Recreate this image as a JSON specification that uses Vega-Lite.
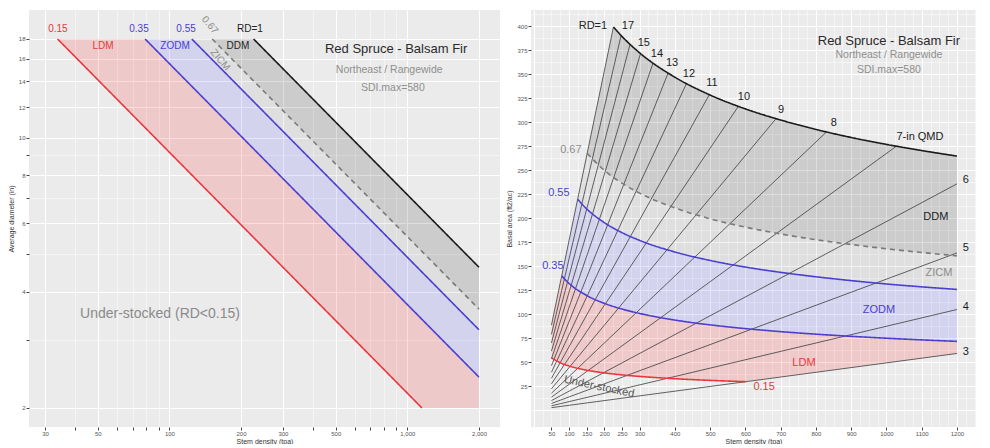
{
"$schema": "https://vega.github.io/schema/vega-lite/v6.json",
"background": "white",
"padding": {"left": 7, "top": 10, "right": 0, "bottom": 0},
"spacing": 5,
"config": {
  "view": {"stroke": null, "fill": "#ebebeb"},
  "font": "Liberation Sans",
  "axis": {"domain": false, "tickColor": "#444", "tickSize": 3, "labelFontSize": 6, "labelColor": "#555", "labelPadding": 1, "titleFontSize": 7, "titleFontWeight": "normal", "titleColor": "#333", "titlePadding": 4, "gridColor": "#ffffff", "labelFont": "Liberation Sans", "titleFont": "Liberation Sans", "labelOverlap": false},
  "axisX": {"titlePadding": 1, "labelPadding": 0}
},
"datasets": {
  "L_area": [
    {"zone":"LDM","N":33.87,"D":18,"D2":18},
    {"zone":"LDM","N":79.03,"D":18,"D2":10.617},
    {"zone":"LDM","N":1151.6,"D":3.391,"D2":2},
    {"zone":"LDM","N":2000,"D":2.404,"D2":2},
    {"zone":"ZODM","N":79.03,"D":18,"D2":18},
    {"zone":"ZODM","N":124.19,"D":18,"D2":13.583},
    {"zone":"ZODM","N":2000,"D":3.186,"D2":2.404},
    {"zone":"ZICM","N":124.19,"D":18,"D2":18},
    {"zone":"ZICM","N":151.29,"D":18,"D2":15.917},
    {"zone":"ZICM","N":2000,"D":3.603,"D2":3.186},
    {"zone":"DDM","N":151.29,"D":18,"D2":18},
    {"zone":"DDM","N":225.8,"D":18,"D2":14.025},
    {"zone":"DDM","N":2000,"D":4.624,"D2":3.603}
  ],
  "L_line": [
    {"rd":"0.15","N":33.87,"D":18},{"rd":"0.15","N":1151.6,"D":2},
    {"rd":"0.35","N":79.03,"D":18},{"rd":"0.35","N":2000,"D":2.404},
    {"rd":"0.55","N":124.19,"D":18},{"rd":"0.55","N":2000,"D":3.186},
    {"rd":"0.67","N":151.29,"D":18},{"rd":"0.67","N":2000,"D":3.603},
    {"rd":"1","N":225.8,"D":18},{"rd":"1","N":2000,"D":4.624}
  ],
  "L_text": [
    {"label":"0.15","N":34,"D":19.1,"zone":"LDM","kind":"zone"},
    {"label":"0.35","N":74.5,"D":19.1,"zone":"ZODM","kind":"zone"},
    {"label":"0.55","N":117.5,"D":19.1,"zone":"ZODM","kind":"zone"},
    {"label":"RD=1","N":218,"D":19.1,"zone":"DDM","kind":"zone"},
    {"label":"LDM","N":52.6,"D":17.26,"zone":"LDM","kind":"zone"},
    {"label":"ZODM","N":105.6,"D":17.26,"zone":"ZODM","kind":"zone"},
    {"label":"DDM","N":194,"D":17.26,"zone":"DDM","kind":"zone"},
    {"label":"0.67","N":148,"D":19.56,"zone":"ZICM","kind":"rot"},
    {"label":"ZICM","N":163.6,"D":15.89,"zone":"ZICM","kind":"rot"},
    {"label":"Red Spruce - Balsam Fir","N":897,"D":16.96,"zone":"DDM","kind":"title"},
    {"label":"Northeast / Rangewide","N":839,"D":14.97,"zone":"ZICM","kind":"sub"},
    {"label":"SDI.max=580","N":869,"D":13.44,"zone":"ZICM","kind":"sub"},
    {"label":"Under-stocked (RD<0.15)","N":91.3,"D":3.5,"zone":"ZICM","kind":"under"}
  ],
  "R_area": [
    {"zone":"LDM","N":50,"BA":88.36,"BA2":54.39},
    {"zone":"LDM","N":79.03,"BA":139.65,"BA2":48.59},
    {"zone":"LDM","N":100,"BA":131.8,"BA2":45.86},
    {"zone":"LDM","N":150,"BA":119.3,"BA2":41.5},
    {"zone":"LDM","N":200,"BA":111.1,"BA2":38.66},
    {"zone":"LDM","N":250,"BA":105.2,"BA2":36.6},
    {"zone":"LDM","N":300,"BA":100.6,"BA2":34.99},
    {"zone":"LDM","N":400,"BA":93.7,"BA2":32.6},
    {"zone":"LDM","N":500,"BA":88.7,"BA2":30.86},
    {"zone":"LDM","N":600.8,"BA":84.77,"BA2":29.5},
    {"zone":"LDM","N":700,"BA":81.65,"BA2":34.36},
    {"zone":"LDM","N":800,"BA":79.01,"BA2":39.27},
    {"zone":"LDM","N":900,"BA":76.75,"BA2":44.18},
    {"zone":"LDM","N":1000,"BA":74.79,"BA2":49.09},
    {"zone":"LDM","N":1100,"BA":73.05,"BA2":54.0},
    {"zone":"LDM","N":1200,"BA":71.5,"BA2":58.9},
    {"zone":"ZODM","N":79.03,"BA":139.65,"BA2":139.65},
    {"zone":"ZODM","N":100,"BA":176.71,"BA2":131.8},
    {"zone":"ZODM","N":124.19,"BA":219.5,"BA2":124.96},
    {"zone":"ZODM","N":150,"BA":209.5,"BA2":119.3},
    {"zone":"ZODM","N":200,"BA":195.2,"BA2":111.1},
    {"zone":"ZODM","N":250,"BA":184.8,"BA2":105.2},
    {"zone":"ZODM","N":300,"BA":176.7,"BA2":100.6},
    {"zone":"ZODM","N":400,"BA":164.6,"BA2":93.7},
    {"zone":"ZODM","N":500,"BA":155.8,"BA2":88.7},
    {"zone":"ZODM","N":600,"BA":148.9,"BA2":84.8},
    {"zone":"ZODM","N":700,"BA":143.4,"BA2":81.65},
    {"zone":"ZODM","N":800,"BA":138.8,"BA2":79.01},
    {"zone":"ZODM","N":900,"BA":134.8,"BA2":76.75},
    {"zone":"ZODM","N":1000,"BA":131.3,"BA2":74.79},
    {"zone":"ZODM","N":1100,"BA":128.3,"BA2":73.05},
    {"zone":"ZODM","N":1200,"BA":125.6,"BA2":71.5},
    {"zone":"ZICM","N":124.19,"BA":219.5,"BA2":219.5},
    {"zone":"ZICM","N":150,"BA":265.07,"BA2":209.5},
    {"zone":"ZICM","N":151.29,"BA":267.4,"BA2":209.06},
    {"zone":"ZICM","N":200,"BA":249.6,"BA2":195.2},
    {"zone":"ZICM","N":250,"BA":236.3,"BA2":184.8},
    {"zone":"ZICM","N":300,"BA":225.9,"BA2":176.7},
    {"zone":"ZICM","N":400,"BA":210.5,"BA2":164.6},
    {"zone":"ZICM","N":500,"BA":199.2,"BA2":155.8},
    {"zone":"ZICM","N":600,"BA":190.5,"BA2":148.9},
    {"zone":"ZICM","N":700,"BA":183.4,"BA2":143.4},
    {"zone":"ZICM","N":800,"BA":177.4,"BA2":138.8},
    {"zone":"ZICM","N":900,"BA":172.4,"BA2":134.8},
    {"zone":"ZICM","N":1000,"BA":168.0,"BA2":131.3},
    {"zone":"ZICM","N":1100,"BA":164.1,"BA2":128.3},
    {"zone":"ZICM","N":1200,"BA":160.6,"BA2":125.6},
    {"zone":"DDM","N":151.29,"BA":267.4,"BA2":267.4},
    {"zone":"DDM","N":200,"BA":353.42,"BA2":249.6},
    {"zone":"DDM","N":225.8,"BA":399.0,"BA2":242.26},
    {"zone":"DDM","N":250,"BA":389.2,"BA2":236.3},
    {"zone":"DDM","N":300,"BA":372.1,"BA2":225.9},
    {"zone":"DDM","N":400,"BA":346.7,"BA2":210.5},
    {"zone":"DDM","N":500,"BA":328.1,"BA2":199.2},
    {"zone":"DDM","N":600,"BA":313.7,"BA2":190.5},
    {"zone":"DDM","N":700,"BA":302.1,"BA2":183.4},
    {"zone":"DDM","N":800,"BA":292.3,"BA2":177.4},
    {"zone":"DDM","N":900,"BA":283.9,"BA2":172.4},
    {"zone":"DDM","N":1000,"BA":276.7,"BA2":168.0},
    {"zone":"DDM","N":1100,"BA":270.3,"BA2":164.1},
    {"zone":"DDM","N":1200,"BA":264.5,"BA2":160.6}
  ],
  "R_curve": [
    {"rd":"1","N":225.8,"BA":399.0},{"rd":"1","N":250,"BA":389.2},{"rd":"1","N":300,"BA":372.1},{"rd":"1","N":400,"BA":346.7},{"rd":"1","N":500,"BA":328.1},{"rd":"1","N":600,"BA":313.7},{"rd":"1","N":700,"BA":302.1},{"rd":"1","N":800,"BA":292.3},{"rd":"1","N":900,"BA":283.9},{"rd":"1","N":1000,"BA":276.7},{"rd":"1","N":1100,"BA":270.3},{"rd":"1","N":1200,"BA":264.5},
    {"rd":"0.67","N":151.29,"BA":267.4},{"rd":"0.67","N":200,"BA":249.6},{"rd":"0.67","N":250,"BA":236.3},{"rd":"0.67","N":300,"BA":225.9},{"rd":"0.67","N":400,"BA":210.5},{"rd":"0.67","N":500,"BA":199.2},{"rd":"0.67","N":600,"BA":190.5},{"rd":"0.67","N":700,"BA":183.4},{"rd":"0.67","N":800,"BA":177.4},{"rd":"0.67","N":900,"BA":172.4},{"rd":"0.67","N":1000,"BA":168.0},{"rd":"0.67","N":1100,"BA":164.1},{"rd":"0.67","N":1200,"BA":160.6},
    {"rd":"0.55","N":124.19,"BA":219.5},{"rd":"0.55","N":150,"BA":209.5},{"rd":"0.55","N":200,"BA":195.2},{"rd":"0.55","N":250,"BA":184.8},{"rd":"0.55","N":300,"BA":176.7},{"rd":"0.55","N":400,"BA":164.6},{"rd":"0.55","N":500,"BA":155.8},{"rd":"0.55","N":600,"BA":148.9},{"rd":"0.55","N":700,"BA":143.4},{"rd":"0.55","N":800,"BA":138.8},{"rd":"0.55","N":900,"BA":134.8},{"rd":"0.55","N":1000,"BA":131.3},{"rd":"0.55","N":1100,"BA":128.3},{"rd":"0.55","N":1200,"BA":125.6},
    {"rd":"0.35","N":79.03,"BA":139.7},{"rd":"0.35","N":100,"BA":131.8},{"rd":"0.35","N":150,"BA":119.3},{"rd":"0.35","N":200,"BA":111.1},{"rd":"0.35","N":250,"BA":105.2},{"rd":"0.35","N":300,"BA":100.6},{"rd":"0.35","N":400,"BA":93.7},{"rd":"0.35","N":500,"BA":88.7},{"rd":"0.35","N":600,"BA":84.8},{"rd":"0.35","N":700,"BA":81.65},{"rd":"0.35","N":800,"BA":79.01},{"rd":"0.35","N":900,"BA":76.75},{"rd":"0.35","N":1000,"BA":74.79},{"rd":"0.35","N":1100,"BA":73.05},{"rd":"0.35","N":1200,"BA":71.5},
    {"rd":"0.15","N":50,"BA":54.39},{"rd":"0.15","N":79.03,"BA":48.59},{"rd":"0.15","N":100,"BA":45.86},{"rd":"0.15","N":150,"BA":41.5},{"rd":"0.15","N":200,"BA":38.66},{"rd":"0.15","N":250,"BA":36.6},{"rd":"0.15","N":300,"BA":34.99},{"rd":"0.15","N":400,"BA":32.6},{"rd":"0.15","N":500,"BA":30.86},{"rd":"0.15","N":600.8,"BA":29.5}
  ],
  "R_qmd": [
    {"q":18,"N":50,"BA":88.36},{"q":18,"N":225.8,"BA":399.0},
    {"q":17,"N":50,"BA":78.81},{"q":17,"N":247.5,"BA":390.1},
    {"q":16,"N":50,"BA":69.81},{"q":16,"N":272.8,"BA":380.9},
    {"q":15,"N":50,"BA":61.36},{"q":15,"N":302.6,"BA":371.3},
    {"q":14,"N":50,"BA":53.45},{"q":14,"N":338.0,"BA":361.3},
    {"q":13,"N":50,"BA":46.09},{"q":13,"N":380.7,"BA":350.9},
    {"q":12,"N":50,"BA":39.27},{"q":12,"N":432.9,"BA":340.0},
    {"q":11,"N":50,"BA":33.0},{"q":11,"N":497.7,"BA":328.5},
    {"q":10,"N":50,"BA":27.27},{"q":10,"N":580,"BA":316.3},
    {"q":9,"N":50,"BA":22.09},{"q":9,"N":686.9,"BA":303.5},
    {"q":8,"N":50,"BA":17.45},{"q":8,"N":829.8,"BA":289.6},
    {"q":7,"N":50,"BA":13.36},{"q":7,"N":1028.1,"BA":274.8},
    {"q":6,"N":50,"BA":9.82},{"q":6,"N":1200,"BA":235.6},
    {"q":5,"N":50,"BA":6.82},{"q":5,"N":1200,"BA":163.6},
    {"q":4,"N":50,"BA":4.36},{"q":4,"N":1200,"BA":104.7},
    {"q":3,"N":50,"BA":2.45},{"q":3,"N":1200,"BA":58.9}
  ],
  "R_text": [
    {"label":"RD=1","N":167.6,"BA":400,"zone":"DDM","kind":"zone"},
    {"label":"0.67","N":105,"BA":271,"zone":"ZICM","kind":"zone"},
    {"label":"0.55","N":71,"BA":226,"zone":"ZODM","kind":"zone"},
    {"label":"0.35","N":54,"BA":150,"zone":"ZODM","kind":"zone"},
    {"label":"0.15","N":653,"BA":24,"zone":"LDM","kind":"zone"},
    {"label":"LDM","N":766,"BA":49,"zone":"LDM","kind":"zone"},
    {"label":"ZODM","N":979,"BA":104,"zone":"ZODM","kind":"zone"},
    {"label":"ZICM","N":1149,"BA":143,"zone":"ZICM","kind":"zone"},
    {"label":"DDM","N":1140,"BA":201,"zone":"DDM","kind":"zone"},
    {"label":"17","N":267,"BA":400,"zone":"DDM","kind":"qmd"},
    {"label":"15","N":312,"BA":382,"zone":"DDM","kind":"qmd"},
    {"label":"14","N":349,"BA":371,"zone":"DDM","kind":"qmd"},
    {"label":"13","N":392,"BA":361,"zone":"DDM","kind":"qmd"},
    {"label":"12","N":440,"BA":350,"zone":"DDM","kind":"qmd"},
    {"label":"11","N":505,"BA":341,"zone":"DDM","kind":"qmd"},
    {"label":"10","N":596,"BA":326,"zone":"DDM","kind":"qmd"},
    {"label":"9","N":701,"BA":312.5,"zone":"DDM","kind":"qmd"},
    {"label":"8","N":851,"BA":299,"zone":"DDM","kind":"qmd"},
    {"label":"7-in QMD","N":1095,"BA":284,"zone":"DDM","kind":"qmd"},
    {"label":"6","N":1225,"BA":240,"zone":"DDM","kind":"qmd"},
    {"label":"5","N":1225,"BA":169,"zone":"DDM","kind":"qmd"},
    {"label":"4","N":1225,"BA":107,"zone":"DDM","kind":"qmd"},
    {"label":"3","N":1225,"BA":60,"zone":"DDM","kind":"qmd"},
    {"label":"Red Spruce - Balsam Fir","N":1007,"BA":384,"zone":"DDM","kind":"title"},
    {"label":"Northeast / Rangewide","N":1007,"BA":370,"zone":"ZICM","kind":"sub"},
    {"label":"SDI.max=580","N":1007,"BA":354,"zone":"ZICM","kind":"sub"},
    {"label":"Under-stocked","N":185,"BA":24,"zone":"ZICM","kind":"under"}
  ]
},
"hconcat": [
  {
    "width": 471, "height": 417,
    "encoding": {
      "x": {"field": "N", "type": "quantitative", "title": "Stem density (tpa)",
        "scale": {"type": "log", "domain": [25.7, 2451], "nice": false},
        "axis": {"values": [30,40,50,60,70,80,90,100,200,300,400,500,600,700,800,900,1000,2000],
          "labelExpr": "indexof([30,50,100,200,300,500,1000,2000], datum.value) >= 0 ? format(datum.value, ',') : ''",
          "gridWidth": {"condition": {"test": "indexof([30,50,100,200,300,500,1000,2000], datum.value) >= 0", "value": 1}, "value": 0.5}}},
      "y": {"field": "D", "type": "quantitative", "title": "Average diameter (in)",
        "scale": {"type": "log", "domain": [1.786, 21.39], "nice": false},
        "axis": {"values": [2,3,4,5,6,7,8,9,10,12,14,16,18],
          "labelExpr": "indexof([3,5,7,9], datum.value) >= 0 ? '' : format(datum.value, 'd')",
          "gridWidth": {"condition": {"test": "indexof([3,5,7,9], datum.value) >= 0", "value": 0.5}, "value": 1}}}
    },
    "layer": [
      {"data": {"name": "L_area"}, "mark": {"type": "area"},
       "encoding": {"y2": {"field": "D2"},
         "color": {"field": "zone", "type": "nominal", "legend": null,
           "scale": {"domain": ["LDM","ZODM","ZICM","DDM"], "range": ["rgba(255,0,0,0.14)","rgba(40,40,255,0.12)","rgba(0,0,0,0.05)","rgba(0,0,0,0.13)"]}}}},
      {"data": {"name": "L_line"}, "mark": {"type": "line", "strokeWidth": 1.6},
       "encoding": {
         "color": {"field": "rd", "type": "nominal", "legend": null,
           "scale": {"domain": ["0.15","0.35","0.55","0.67","1"], "range": ["#e8383d","#4b3fd0","#4b3fd0","#7a7a7a","#1a1a1a"]}},
         "strokeDash": {"field": "rd", "type": "nominal", "legend": null,
           "scale": {"domain": ["0.15","0.35","0.55","0.67","1"], "range": [[1,0],[1,0],[1,0],[5,4],[1,0]]}}}},
      {"data": {"name": "L_text"}, "transform": [{"filter": "datum.kind == 'zone'"}],
       "mark": {"type": "text", "fontSize": 10},
       "encoding": {"text": {"field": "label"},
         "color": {"field": "zone", "type": "nominal", "legend": null,
           "scale": {"domain": ["LDM","ZODM","ZICM","DDM"], "range": ["#e23a3a","#4a3fcf","#8c8c8c","#222222"]}}}},
      {"data": {"name": "L_text"}, "transform": [{"filter": "datum.kind == 'rot'"}],
       "mark": {"type": "text", "fontSize": 10, "angle": 50, "color": "#8c8c8c"},
       "encoding": {"text": {"field": "label"}}},
      {"data": {"name": "L_text"}, "transform": [{"filter": "datum.kind == 'title'"}],
       "mark": {"type": "text", "fontSize": 13, "color": "#2a2a2a"},
       "encoding": {"text": {"field": "label"}}},
      {"data": {"name": "L_text"}, "transform": [{"filter": "datum.kind == 'sub'"}],
       "mark": {"type": "text", "fontSize": 10.5, "color": "#8f8f8f"},
       "encoding": {"text": {"field": "label"}}},
      {"data": {"name": "L_text"}, "transform": [{"filter": "datum.kind == 'under'"}],
       "mark": {"type": "text", "fontSize": 14, "color": "#8a8a8a"},
       "encoding": {"text": {"field": "label"}}}
    ],
    "resolve": {"scale": {"color": "independent", "strokeDash": "independent"}}
  },
  {
    "width": 445, "height": 417,
    "encoding": {
      "x": {"field": "N", "type": "quantitative", "title": "Stem density (tpa)",
        "scale": {"domain": [-8, 1254], "nice": false, "zero": false},
        "axis": {"values": [0,25,50,75,100,125,150,175,200,225,250,275,300,325,350,375,400,425,450,475,500,525,550,575,600,625,650,675,700,725,750,775,800,825,850,875,900,925,950,975,1000,1025,1050,1075,1100,1125,1150,1175,1200,1225,1250],
          "labelExpr": "indexof([50,100,150,200,250,300,400,500,600,700,800,900,1000,1100,1200], datum.value) >= 0 ? format(datum.value, 'd') : ''",
          "tickColor": {"condition": {"test": "indexof([50,100,150,200,250,300,400,500,600,700,800,900,1000,1100,1200], datum.value) >= 0", "value": "#444"}, "value": "transparent"},
          "gridWidth": {"condition": {"test": "datum.value % 100 == 0", "value": 1}, "value": 0.5}}},
      "y": {"field": "BA", "type": "quantitative", "title": "Basal area (ft2/ac)",
        "scale": {"domain": [-17.7, 416.7], "nice": false, "zero": false},
        "axis": {"values": [0,12.5,25,37.5,50,62.5,75,87.5,100,112.5,125,137.5,150,162.5,175,187.5,200,212.5,225,237.5,250,262.5,275,287.5,300,312.5,325,337.5,350,362.5,375,387.5,400,412.5],
          "labelExpr": "datum.value > 0 && datum.value % 25 == 0 ? format(datum.value, 'd') : ''",
          "tickColor": {"condition": {"test": "datum.value > 0 && datum.value % 25 == 0", "value": "#444"}, "value": "transparent"},
          "gridWidth": {"condition": {"test": "datum.value % 25 == 0", "value": 1}, "value": 0.5}}}
    },
    "layer": [
      {"data": {"name": "R_area"}, "mark": {"type": "area"},
       "encoding": {"y2": {"field": "BA2"},
         "color": {"field": "zone", "type": "nominal", "legend": null,
           "scale": {"domain": ["LDM","ZODM","ZICM","DDM"], "range": ["rgba(255,0,0,0.14)","rgba(40,40,255,0.12)","rgba(0,0,0,0.05)","rgba(0,0,0,0.13)"]}}}},
      {"data": {"name": "R_qmd"}, "mark": {"type": "line", "strokeWidth": 0.8, "color": "#3c3c3c"},
       "encoding": {"detail": {"field": "q", "type": "nominal"}}},
      {"data": {"name": "R_curve"}, "mark": {"type": "line", "strokeWidth": 1.6, "interpolate": "monotone"},
       "encoding": {
         "color": {"field": "rd", "type": "nominal", "legend": null,
           "scale": {"domain": ["0.15","0.35","0.55","0.67","1"], "range": ["#e8383d","#4b3fd0","#4b3fd0","#7a7a7a","#1a1a1a"]}},
         "strokeDash": {"field": "rd", "type": "nominal", "legend": null,
           "scale": {"domain": ["0.15","0.35","0.55","0.67","1"], "range": [[1,0],[1,0],[1,0],[5,4],[1,0]]}}}},
      {"data": {"name": "R_text"}, "transform": [{"filter": "datum.kind == 'zone'"}],
       "mark": {"type": "text", "fontSize": 11},
       "encoding": {"text": {"field": "label"},
         "color": {"field": "zone", "type": "nominal", "legend": null,
           "scale": {"domain": ["LDM","ZODM","ZICM","DDM"], "range": ["#e23a3a","#4a3fcf","#8c8c8c","#222222"]}}}},
      {"data": {"name": "R_text"}, "transform": [{"filter": "datum.kind == 'qmd'"}],
       "mark": {"type": "text", "fontSize": 11, "color": "#1a1a1a"},
       "encoding": {"text": {"field": "label"}}},
      {"data": {"name": "R_text"}, "transform": [{"filter": "datum.kind == 'title'"}],
       "mark": {"type": "text", "fontSize": 13, "color": "#2a2a2a"},
       "encoding": {"text": {"field": "label"}}},
      {"data": {"name": "R_text"}, "transform": [{"filter": "datum.kind == 'sub'"}],
       "mark": {"type": "text", "fontSize": 10.5, "color": "#8f8f8f"},
       "encoding": {"text": {"field": "label"}}},
      {"data": {"name": "R_text"}, "transform": [{"filter": "datum.kind == 'under'"}],
       "mark": {"type": "text", "fontSize": 11, "angle": 12, "color": "#555555"},
       "encoding": {"text": {"field": "label"}}}
    ],
    "resolve": {"scale": {"color": "independent", "strokeDash": "independent"}}
  }
]
}
